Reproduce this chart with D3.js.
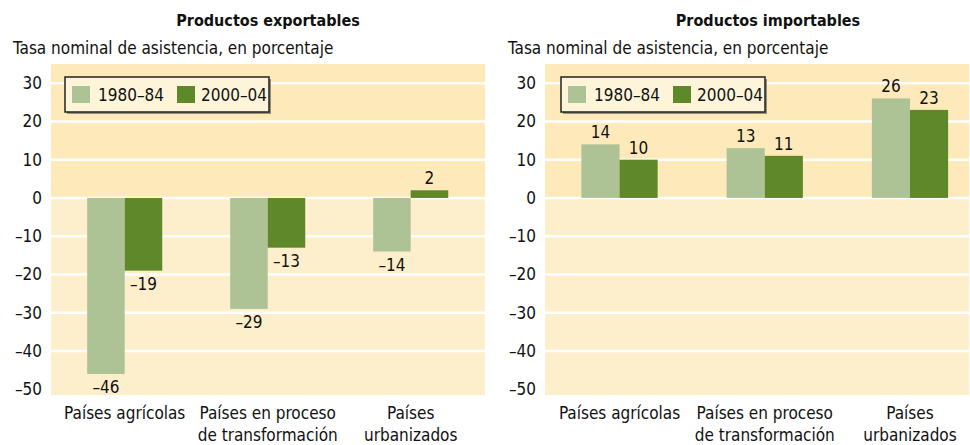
<!DOCTYPE html>
<html>
<head>
<meta charset="utf-8">
<script src="https://cdn.jsdelivr.net/npm/d3@7"></script>
<style>
  body { margin: 0; background: #fff; }
  svg text { font-family: "Liberation Sans Narrow", "DejaVu Sans Condensed", "Roboto", sans-serif; fill: #111; }
  .title { font-weight: bold; font-size: 16px; }
  .sub { font-size: 17px; }
  .tick { font-size: 17px; }
  .val { font-size: 17px; }
  .cat { font-size: 17px; }
  .legend { font-size: 17px; }
</style>
</head>
<body>
<svg width="970" height="445"></svg>
<script>
var categories = [["Países agrícolas"], ["Países en proceso", "de transformación"], ["Países", "urbanizados"]];
var series = ["1980–84", "2000–04"];
var seriesColors = ["#adc395", "#5e8829"];
var exportables1980 = [-46, -29, -14];
var exportables2000 = [-19, -13, 2];
var importables1980 = [14, 13, 26];
var importables2000 = [10, 11, 23];
var yTicks = [30, 20, 10, 0, -10, -20, -30, -40, -50];

var svg = d3.select("svg");

function fmt(d) {
    return d < 0 ? "\u2013" + Math.abs(d) : String(d);
}

function drawPanel(opt) {
    var g = svg.append("g");
    var yScale = d3.scaleLinear().domain([-51.5, 35]).range([395, 64]);
    var xScale = d3.scaleBand().domain(d3.range(categories.length))
        .range(opt.band).paddingInner(0.475).paddingOuter(0.2375);
    var sScale = d3.scaleBand().domain(series).range([0, xScale.bandwidth()]);

    // title and subtitle
    g.append("text").attr("class", "title")
        .attr("x", opt.titleX).attr("y", 26)
        .attr("text-anchor", "middle")
        .text(opt.title);
    g.append("text").attr("class", "sub")
        .attr("x", opt.subX).attr("y", 54)
        .text("Tasa nominal de asistencia, en porcentaje");

    // background, darker above zero
    g.append("rect")
        .attr("x", opt.left).attr("y", yScale(35))
        .attr("width", opt.right - opt.left)
        .attr("height", yScale(0) - yScale(35))
        .attr("fill", "#fde9b9");
    g.append("rect")
        .attr("x", opt.left).attr("y", yScale(0))
        .attr("width", opt.right - opt.left)
        .attr("height", yScale(-51.5) - yScale(0))
        .attr("fill", "#feefcc");

    g.selectAll(".grid")
        .data(yTicks.filter(function(d) { return d > -50; }))
        .enter().append("line")
        .attr("x1", opt.left).attr("x2", opt.right)
        .attr("y1", function(d) { return yScale(d); })
        .attr("y2", function(d) { return yScale(d); })
        .attr("stroke", "#fff").attr("stroke-width", 2.5);

    g.selectAll(".tick")
        .data(yTicks)
        .enter().append("text")
        .attr("class", "tick")
        .attr("x", opt.left - 9)
        .attr("y", function(d) { return yScale(d) + 6; })
        .attr("text-anchor", "end")
        .text(fmt);

    // bars
    opt.values.forEach(function(vals, si) {
        var bars = g.selectAll(".bar" + si)
            .data(vals)
            .enter();
        bars.append("rect")
            .attr("x", function(d, i) { return xScale(i) + sScale(series[si]); })
            .attr("y", function(d) { return yScale(Math.max(0, d)); })
            .attr("width", sScale.bandwidth())
            .attr("height", function(d) { return Math.abs(yScale(d) - yScale(0)); })
            .attr("fill", seriesColors[si]);
        bars.append("text")
            .attr("class", "val")
            .attr("x", function(d, i) { return xScale(i) + sScale(series[si]) + sScale.bandwidth() / 2; })
            .attr("y", function(d) { return d < 0 ? yScale(d) + 19 : yScale(d) - 6; })
            .attr("text-anchor", "middle")
            .text(fmt);
    });

    // category labels
    categories.forEach(function(lines, i) {
        lines.forEach(function(line, li) {
            g.append("text").attr("class", "cat")
                .attr("x", xScale(i) + xScale.bandwidth() / 2)
                .attr("y", 419 + li * 22)
                .attr("text-anchor", "middle")
                .text(line);
        });
    });

    // legend
    var lg = g.append("g").attr("transform", "translate(" + opt.legendX + ",77)");
    lg.append("rect").attr("x", 2).attr("y", 2).attr("width", 204).attr("height", 35).attr("fill", "#9a8f7a");
    lg.append("rect").attr("width", 204).attr("height", 35)
        .attr("fill", "#fef4da").attr("stroke", "#222").attr("stroke-width", 1.5);
    series.forEach(function(s, i) {
        lg.append("rect").attr("x", 7 + i * 105).attr("y", 9)
            .attr("width", 18).attr("height", 17)
            .attr("fill", seriesColors[i]);
        lg.append("text").attr("class", "legend")
            .attr("x", 33 + i * 103).attr("y", 24)
            .text(s);
    });
}

drawPanel({
    title: "Productos exportables", titleX: 268, subX: 13,
    left: 51, right: 485, band: [53.2, 482.2], legendX: 65,
    values: [exportables1980, exportables2000]
});
drawPanel({
    title: "Productos importables", titleX: 768, subX: 508,
    left: 545, right: 969, band: [546.9, 982.6], legendX: 561,
    values: [importables1980, importables2000]
});
</script>
</body>
</html>
